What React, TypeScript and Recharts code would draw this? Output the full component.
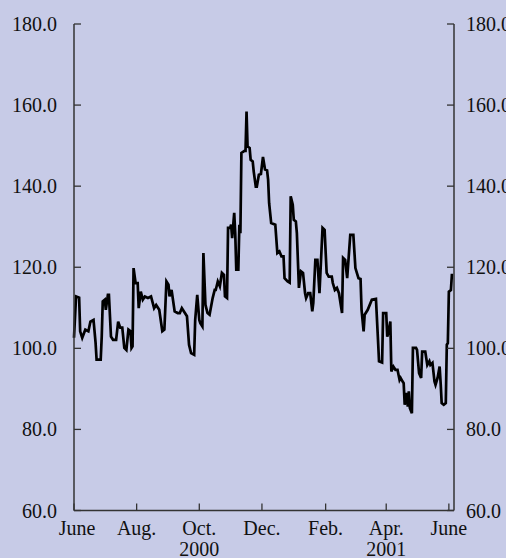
import React from "react";
import { LineChart, Line, XAxis, YAxis } from "recharts";

// days since 1 June 2000
const days = [
  0, 2, 5, 6, 8, 11, 14, 16, 19, 21, 22, 26, 27, 28, 30, 31, 33, 34, 36, 38,
  41, 43, 45, 47, 49, 51, 53, 55, 56, 57, 58, 60, 62, 63, 65, 67, 69, 72, 75, 78,
  80, 83, 86, 88, 90, 92, 93, 95, 98, 101, 103, 105, 108, 110, 112, 114, 117, 118, 120, 122,
  123, 125, 126, 128, 130, 132, 135, 137, 138, 140, 142, 144, 146, 147, 149, 150, 152, 153, 154, 156,
  157, 158, 160, 161, 162, 163, 166, 167, 168, 169, 171, 172, 174, 175, 177, 178, 180, 182, 184, 186,
  188, 189, 190, 192, 196, 198, 200, 202, 204, 205, 208, 210, 211, 213, 214, 216, 217, 219, 221, 223,
  225, 226, 228, 230, 232, 233, 235, 237, 239, 242, 244, 246, 248, 251, 252, 254, 256, 258, 261, 262,
  264, 266, 269, 272, 274, 277, 279, 280, 282, 283, 286, 290, 294, 296, 297, 300, 301, 304, 305, 306,
  308, 309, 311, 313, 315, 317, 318, 320, 321, 322, 324, 325, 326, 327, 329, 330, 333, 334, 336, 338,
  339, 342, 344, 346, 347, 349, 351, 352, 354, 356, 357, 358, 360, 362, 363, 364, 365, 367, 368,
];

const values = [
  102.6, 112.8, 112.5, 104.2, 102.6, 104.6, 104.2, 106.6, 107.0, 101.4, 97.2, 97.2, 102.9, 111.6, 112.0, 109.5, 113.2, 113.2, 102.9, 102.1,
  102.1, 106.6, 105.1, 105.1, 100.1, 99.6, 104.6, 104.2, 100.1, 100.5, 119.8, 116.1, 116.1, 109.9, 114.0, 112.0, 112.8, 112.4, 112.8, 109.9,
  110.7, 109.5, 104.2, 104.6, 116.5, 115.7, 112.8, 114.4, 109.1, 108.7, 108.7, 109.9, 108.7, 107.9, 100.9, 98.8, 98.4, 107.0, 113.2, 107.0,
  106.2, 105.4, 123.5, 110.7, 108.7, 108.3, 112.4, 114.4, 114.4, 116.5, 115.3, 118.6, 118.1, 112.8, 112.4, 129.7, 129.7, 130.5, 127.2, 133.4,
  128.4, 119.4, 119.4, 130.5, 128.4, 148.2, 148.7, 148.7, 158.4, 149.8, 149.4, 146.5, 146.1, 143.6, 139.9, 139.9, 142.8, 143.0, 147.2, 144.1,
  143.9, 141.6, 135.8, 130.9, 130.5, 123.5, 123.9, 122.7, 122.7, 117.3, 116.5, 116.2, 137.5, 135.4, 131.7, 131.3, 128.4, 114.9, 119.0, 118.6,
  113.6, 112.4, 113.6, 113.6, 109.1, 111.2, 121.8, 121.8, 113.6, 129.7, 129.2, 118.6, 117.7, 117.7, 116.1, 114.4, 114.9, 113.6, 108.7, 122.3,
  121.8, 117.3, 128.0, 128.0, 119.8, 117.3, 117.1, 109.5, 104.2, 108.3, 109.5, 112.0, 112.2, 102.1, 96.8, 96.5, 108.7, 108.7, 102.9, 103.8,
  106.6, 94.3, 95.5, 94.7, 94.7, 92.2, 92.7, 91.8, 91.4, 86.1, 89.0, 85.6, 89.4, 85.3, 84.0, 100.1, 100.1, 99.6, 93.9, 92.7,
  99.2, 99.2, 95.9, 96.8, 95.9, 96.4, 91.8, 91.0, 92.7, 95.5, 91.4, 86.5, 86.1, 86.5, 100.9, 101.3, 114.0, 114.4, 118.4,
];

const tickDays = [0, 61, 122, 183, 245, 304, 365];
const monthLabels = ["June", "Aug.", "Oct.", "Dec.", "Feb.", "Apr.", "June"];
const yearLabels = ["", "", "2000", "", "", "2001", ""];
const yTicks = [60, 80, 100, 120, 140, 160, 180];

const data = days.map((d, i) => ({ day: d, value: values[i] }));

const bg = "#c7cbe7";
const axisColor = "#333";
const font = "'Liberation Serif', 'Times New Roman', serif";

const LeftTick = (props: any) => {
  const { x, y, payload } = props;
  return (
    <g>
      <line x1={x} y1={y} x2={x + 7} y2={y} stroke={axisColor} strokeWidth={1.3} />
      <text x={x - 17} y={y + 7} textAnchor="end" fontFamily={font} fontSize={20} fill="#111">
        {payload.value.toFixed(1)}
      </text>
    </g>
  );
};

const RightTick = (props: any) => {
  const { x, y, payload } = props;
  return (
    <g>
      <line x1={x} y1={y} x2={x - 7} y2={y} stroke={axisColor} strokeWidth={1.3} />
      <text x={x + 12} y={y + 7} textAnchor="start" fontFamily={font} fontSize={20} fill="#111">
        {payload.value.toFixed(1)}
      </text>
    </g>
  );
};

const BottomTick = (props: any) => {
  const { x, y, payload } = props;
  const i = tickDays.indexOf(payload.value);
  return (
    <g>
      <line x1={x} y1={y} x2={x} y2={y - 7} stroke={axisColor} strokeWidth={1.3} />
      <text x={x + (i === 0 ? 3 : 0)} y={y + 24.5} textAnchor="middle" fontFamily={font} fontSize={20} fill="#111">
        {monthLabels[i]}
      </text>
      {yearLabels[i] && (
        <text x={x} y={y + 45.5} textAnchor="middle" fontFamily={font} fontSize={20} fill="#111">
          {yearLabels[i]}
        </text>
      )}
    </g>
  );
};

export default function App() {
  return (
    <div style={{ position: "absolute", left: 0, top: 0, width: 506, height: 558, background: bg }}>
      <LineChart width={506} height={558} data={data} margin={{ top: 24, right: 0, bottom: 0, left: 0 }}>
        <XAxis
          dataKey="day"
          type="number"
          domain={[0, 370]}
          ticks={tickDays}
          interval={0}
          height={47.5}
          tickSize={0}
          tickMargin={0}
          tickLine={false}
          axisLine={{ stroke: axisColor, strokeWidth: 1.5 }}
          tick={<BottomTick />}
        />
        <YAxis
          yAxisId="left"
          orientation="left"
          domain={[60, 180]}
          ticks={yTicks}
          interval={0}
          width={74}
          tickSize={0}
          tickMargin={0}
          tickLine={false}
          axisLine={{ stroke: axisColor, strokeWidth: 1.5 }}
          tick={<LeftTick />}
        />
        <YAxis
          yAxisId="right"
          orientation="right"
          domain={[60, 180]}
          ticks={yTicks}
          interval={0}
          width={52}
          tickSize={0}
          tickMargin={0}
          tickLine={false}
          axisLine={{ stroke: axisColor, strokeWidth: 1.5 }}
          tick={<RightTick />}
        />
        {/* invisible copy so the right axis has a series and draws its ticks */}
        <Line
          yAxisId="right"
          type="linear"
          dataKey="value"
          stroke="none"
          strokeWidth={0}
          dot={false}
          activeDot={false}
          isAnimationActive={false}
        />
        <Line
          yAxisId="left"
          type="linear"
          dataKey="value"
          stroke="#000"
          strokeWidth={2.7}
          dot={false}
          isAnimationActive={false}
        />
      </LineChart>
    </div>
  );
}
